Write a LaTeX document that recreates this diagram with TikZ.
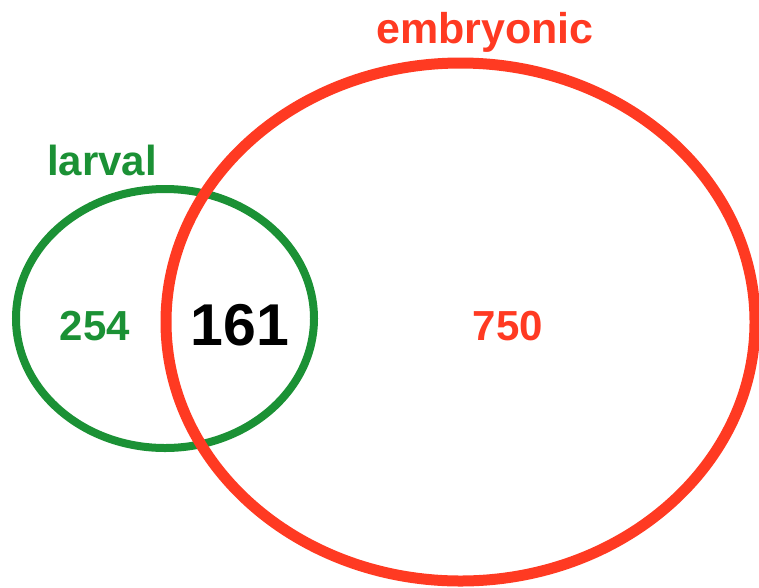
\documentclass[tikz,border=0pt]{standalone}
\usepackage{fontspec}
\setmainfont{Liberation Sans}
\definecolor{vred}{RGB}{255,58,34}
\definecolor{vgreen}{RGB}{27,145,53}
\begin{document}
\begin{tikzpicture}[x=1pt,y=-1pt,
  lbl/.style={anchor=base,inner sep=0pt,font=\bfseries\fontsize{42}{42}\selectfont},
  big/.style={anchor=base,inner sep=0pt,font=\bfseries\fontsize{59}{59}\selectfont}]
\useasboundingbox (0,0) rectangle (759,587);
\draw[vgreen,line width=8pt] (165,318.5) ellipse [x radius=149pt, y radius=129.5pt];
\draw[vred,line width=11pt] (460.5,322) ellipse [x radius=294.5pt, y radius=259pt];
\node[lbl,vred,font=\bfseries\fontsize{43}{43}\selectfont] (emb) at (485,43) {embryonic};
\node[lbl,vgreen] (lar) at (102,175) {larval};
\node[lbl,vgreen] (n254) at (95,340) {254};
\node[big,black] (n161) at (240,345) {161};
\node[lbl,vred] (n750) at (508,340) {750};
\end{tikzpicture}
\end{document}
